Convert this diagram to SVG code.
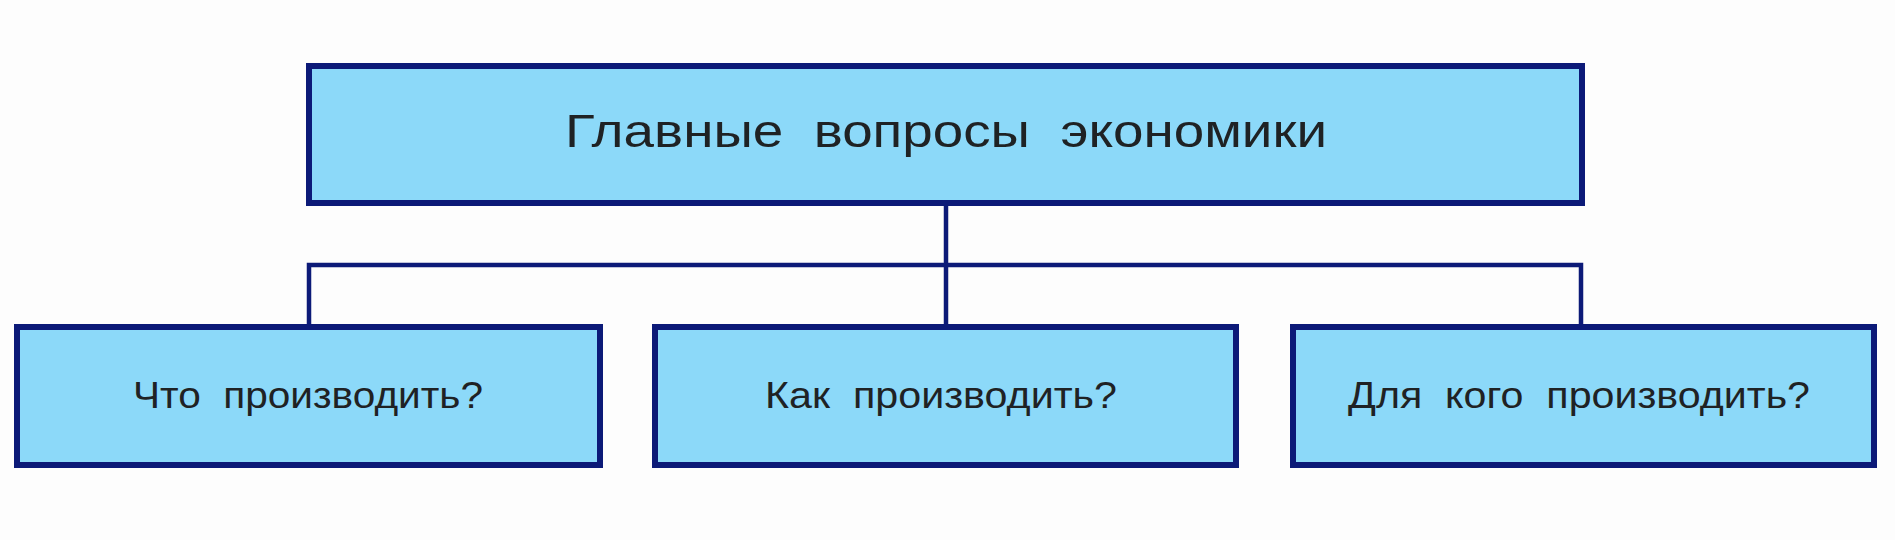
<svg xmlns="http://www.w3.org/2000/svg" width="1895" height="540" viewBox="0 0 1895 540">
  <style>
    .box { fill: #8cd9f9; stroke: #0c1a78; stroke-width: 6; }
    .conn { fill: none; stroke: #0c1a78; stroke-width: 4.5; }
    .title { font-family: "Liberation Sans", Arial, sans-serif; font-size: 46px; fill: #1f2224; text-anchor: middle; }
    .label { font-family: "Liberation Sans", Arial, sans-serif; font-size: 36px; fill: #1f2224; text-anchor: middle; }
  </style>
  <rect x="0" y="0" width="1895" height="540" fill="#fdfdfd"/>
  <g id="connectors">
    <line class="conn" x1="946" y1="206" x2="946" y2="324"/>
    <polyline class="conn" points="309,324 309,265 1581,265 1581,324"/>
  </g>
  <g id="node-main">
    <rect class="box" x="309" y="66" width="1273" height="137"/>
    <text class="title" x="946" y="147" textLength="762" lengthAdjust="spacingAndGlyphs" xml:space="preserve">Главные  вопросы  экономики</text>
  </g>
  <g id="node-what">
    <rect class="box" x="17" y="327" width="583" height="138"/>
    <text class="label" x="308" y="408" textLength="350" lengthAdjust="spacingAndGlyphs" xml:space="preserve">Что  производить?</text>
  </g>
  <g id="node-how">
    <rect class="box" x="655" y="327" width="581" height="138"/>
    <text class="label" x="941" y="408" textLength="352" lengthAdjust="spacingAndGlyphs" xml:space="preserve">Как  производить?</text>
  </g>
  <g id="node-whom">
    <rect class="box" x="1293" y="327" width="581" height="138"/>
    <text class="label" x="1579" y="408" textLength="462" lengthAdjust="spacingAndGlyphs" xml:space="preserve">Для  кого  производить?</text>
  </g>
</svg>
